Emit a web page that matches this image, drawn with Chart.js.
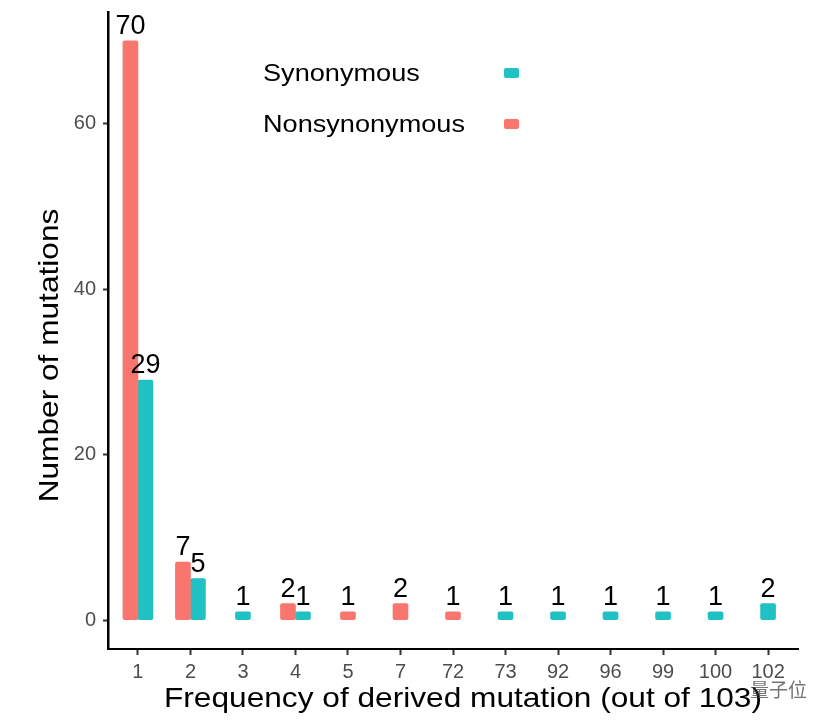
<!DOCTYPE html>
<html>
<head>
<meta charset="utf-8">
<script src="https://cdn.jsdelivr.net/npm/chart.js@4.4.1/dist/chart.umd.min.js"></script>
<style>
  body { margin: 0; background: #fff; }
  #wrap { width: 834px; height: 726px; }
</style>
</head>
<body>
<div id="wrap"><canvas id="chart" width="834" height="726"></canvas></div>
<script>
// frequency of derived mutation (out of 103)
const categories = ["1", "2", "3", "4", "5", "7", "72", "73", "92", "96", "99", "100", "102"];
const nonsynonymous = [70, 7, null, 2, 1, 2, 1, null, null, null, null, null, null];
const synonymous = [29, 5, 1, 1, null, null, null, 1, 1, 1, 1, 1, 2];
const yTicks = [0, 20, 40, 60];

const SALMON = '#F8766D';
const TEAL = '#1FC1C4';
const FONT = "'Liberation Sans', Arial, sans-serif";
const WIDE = 1.13; // reference glyphs are a bit wider than Liberation Sans

function toPoints(values) {
    return values.map((v, i) => ({ x: i, y: v }));
}

// draw text stretched horizontally around x
function wideText(ctx, text, x, y) {
    ctx.save();
    ctx.translate(x, y);
    ctx.scale(WIDE, 1);
    ctx.fillText(text, 0, 0);
    ctx.restore();
}

// value labels above each bar
const barLabels = {
    id: 'barLabels',
    afterDatasetsDraw(chart) {
        const ctx = chart.ctx;
        ctx.save();
        ctx.font = '27px ' + FONT;
        ctx.fillStyle = '#000';
        ctx.textAlign = 'center';
        ctx.textBaseline = 'alphabetic';
        chart.data.datasets.forEach((ds, di) => {
            const meta = chart.getDatasetMeta(di);
            meta.data.forEach((bar, i) => {
                const v = ds.data[i].y;
                if (v === null) return;
                ctx.fillText(String(v), bar.x, bar.y - 7);
            });
        });
        ctx.restore();
    }
};

// ggplot-like legend inside the panel: text first, key after
const insideLegend = {
    id: 'insideLegend',
    afterDraw(chart) {
        const ctx = chart.ctx;
        const a = chart.chartArea;
        const items = [
            { text: 'Synonymous', color: TEAL, y: 81 },
            { text: 'Nonsynonymous', color: SALMON, y: 132 }
        ];
        ctx.save();
        ctx.font = '24px ' + FONT;
        ctx.textAlign = 'left';
        ctx.textBaseline = 'alphabetic';
        items.forEach(it => {
            ctx.fillStyle = '#000';
            wideText(ctx, it.text, a.left + 155, it.y);
            ctx.fillStyle = it.color;
            ctx.beginPath();
            ctx.roundRect(a.left + 396, it.y - 13, 15, 10, 2);
            ctx.fill();
        });
        ctx.restore();
    }
};

// axis titles + watermark
const axisTitles = {
    id: 'axisTitles',
    afterDraw(chart) {
        const ctx = chart.ctx;
        const a = chart.chartArea;
        ctx.save();
        ctx.fillStyle = '#000';
        ctx.font = '28px ' + FONT;
        ctx.textAlign = 'center';
        ctx.textBaseline = 'alphabetic';
        wideText(ctx, 'Frequency of derived mutation (out of 103)', (a.left + a.right) / 2 + 10, a.bottom + 58);

        ctx.translate(a.left - 50, (a.top + a.bottom) / 2 + 25);
        ctx.rotate(-Math.PI / 2);
        wideText(ctx, 'Number of mutations', 0, 0);
        ctx.restore();

        ctx.save();
        ctx.font = "19px 'Noto Sans CJK SC', sans-serif";
        ctx.fillStyle = 'rgba(70,70,70,0.75)';
        ctx.textAlign = 'left';
        ctx.fillText('量子位', 750, 697);
        ctx.restore();
    }
};

new Chart(document.getElementById('chart'), {
    type: 'bar',
    data: {
        datasets: [
            {
                label: 'Nonsynonymous',
                data: toPoints(nonsynonymous),
                backgroundColor: SALMON,
                barThickness: 15,
                borderRadius: 2,
                borderSkipped: false,
                skipNull: true
            },
            {
                label: 'Synonymous',
                data: toPoints(synonymous),
                backgroundColor: TEAL,
                barThickness: 15,
                borderRadius: 2,
                borderSkipped: false,
                skipNull: true
            }
        ]
    },
    options: {
        responsive: false,
        animation: false,
        layout: {
            padding: { left: 0, top: 12, right: 36, bottom: 0 }
        },
        plugins: {
            legend: { display: false },
            tooltip: { enabled: false }
        },
        scales: {
            x: {
                type: 'linear',
                offset: false,
                min: -0.57,
                max: categories.length - 1 + 0.57,
                afterBuildTicks: (scale) => {
                    scale.ticks = categories.map((c, i) => ({ value: i }));
                },
                afterFit: (scale) => {
                    scale.height = 77;
                    scale.paddingLeft = 0;
                    scale.paddingRight = 0;
                },
                ticks: {
                    autoSkip: false,
                    maxRotation: 0,
                    padding: 5,
                    color: '#4D4D4D',
                    font: { family: FONT, size: 20 },
                    callback: (value) => categories[value]
                },
                grid: {
                    offset: false,
                    drawOnChartArea: false,
                    drawTicks: true,
                    tickLength: 6,
                    tickWidth: 2,
                    tickColor: '#333333'
                },
                border: { display: true, color: '#000', width: 2 }
            },
            y: {
                min: -3.5,
                max: 73.5,
                afterBuildTicks: (scale) => {
                    scale.ticks = yTicks.map(v => ({ value: v }));
                },
                afterFit: (scale) => {
                    scale.width = 108;
                    scale.paddingTop = 0;
                    scale.paddingBottom = 0;
                },
                ticks: {
                    padding: 7,
                    color: '#4D4D4D',
                    font: { family: FONT, size: 20 }
                },
                grid: {
                    drawOnChartArea: false,
                    drawTicks: true,
                    tickLength: 5,
                    tickWidth: 2,
                    tickColor: '#333333'
                },
                border: { display: true, color: '#000', width: 2.5 }
            }
        }
    },
    plugins: [barLabels, insideLegend, axisTitles]
});
</script>
</body>
</html>
